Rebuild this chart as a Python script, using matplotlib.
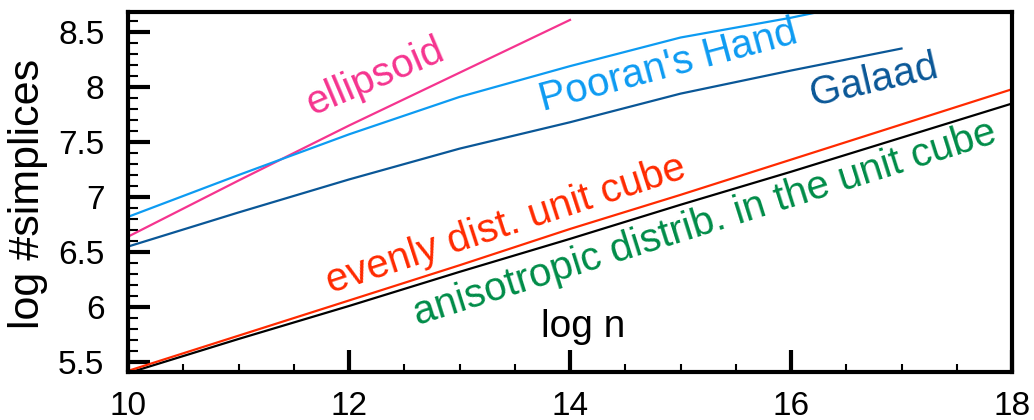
import matplotlib
matplotlib.use("Agg")
import matplotlib.pyplot as plt
from matplotlib.ticker import MultipleLocator

plt.rcParams['font.family'] = ['Liberation Sans', 'DejaVu Sans']

# data (log n vs log #simplices)
x_ellipsoid = [10, 11, 12, 13, 14]
y_ellipsoid = [6.64, 7.15, 7.65, 8.13, 8.61]

x_pooran = [10, 11, 12, 13, 14, 15, 16, 17]
y_pooran = [6.82, 7.20, 7.57, 7.91, 8.19, 8.45, 8.63, 8.84]

x_galaad = [10, 11, 12, 13, 14, 15, 16, 17]
y_galaad = [6.55, 6.86, 7.16, 7.44, 7.68, 7.94, 8.15, 8.35]

x_even = [10, 11, 12, 13, 14, 15, 16, 17, 18]
y_even = [5.42, 5.74, 6.06, 6.38, 6.71, 7.02, 7.34, 7.66, 7.98]

x_aniso = [10, 11, 12, 13, 14, 15, 16, 17, 18]
y_aniso = [5.40, 5.71, 6.01, 6.32, 6.62, 6.93, 7.23, 7.54, 7.85]

xticks = [10, 12, 14, 16, 18]
yticks = [5.5, 6, 6.5, 7, 7.5, 8, 8.5]
ytick_labels = ['5.5', '6', '6.5', '7', '7.5', '8', '8.5']

c_ell = '#f5348f'
c_poo = '#0d9bf2'
c_gal = '#0a5797'
c_even = '#ff2a00'
c_aniso = '#000000'
c_green = '#008c48'

fig = plt.figure(figsize=(10.34, 4.2), dpi=100)
ax = fig.add_axes([128/1034, 48/420, 884/1034, 360/420])

lw = 1.6
ax.plot(x_ellipsoid, y_ellipsoid, color=c_ell, lw=lw)
ax.plot(x_pooran, y_pooran, color=c_poo, lw=lw)
ax.plot(x_galaad, y_galaad, color=c_gal, lw=lw)
ax.plot(x_aniso, y_aniso, color=c_aniso, lw=lw)
ax.plot(x_even, y_even, color=c_even, lw=lw)

ax.set_xlim(10, 18)
ax.set_ylim(5.41, 8.682)
ax.set_xticks(xticks)
ax.set_xticklabels([str(t) for t in xticks])
ax.set_yticks(yticks)
ax.set_yticklabels(ytick_labels)
ax.xaxis.set_minor_locator(MultipleLocator(0.5))
ax.yaxis.set_minor_locator(MultipleLocator(0.1))

for s in ax.spines.values():
    s.set_linewidth(3)
ax.tick_params(which='major', direction='in', length=16, width=3, labelsize=24)
ax.tick_params(which='minor', direction='in', length=7, width=1.5)
ax.tick_params(axis='x', which='minor', length=6)
ax.tick_params(axis='y', which='major', pad=17)
ax.tick_params(axis='x', which='major', pad=14)

fs = 29
ax.text(12.24, 8.09, 'ellipsoid', color=c_ell, fontsize=fs, rotation=23, ha='center', va='center')
ax.text(14.89, 8.19, "Pooran's Hand", color=c_poo, fontsize=fs, rotation=15, ha='center', va='center')
ax.text(16.75, 8.06, 'Galaad', color=c_gal, fontsize=fs, rotation=13, ha='center', va='center')
ax.text(13.42, 6.75, 'evenly dist. unit cube', color=c_even, fontsize=fs, rotation=18, ha='center', va='center')
ax.text(15.22, 6.76, 'anisotropic distrib. in the unit cube', color=c_green, fontsize=fs, rotation=17.5, ha='center', va='center')
ax.text(14.12, 5.73, 'log n', color='black', fontsize=28, ha='center', va='baseline')

fig.text(28/1034, 1 - 194/420, 'log #simplices', rotation=90, fontsize=31, ha='center', va='center')

fig.savefig('out.png', dpi=100)
